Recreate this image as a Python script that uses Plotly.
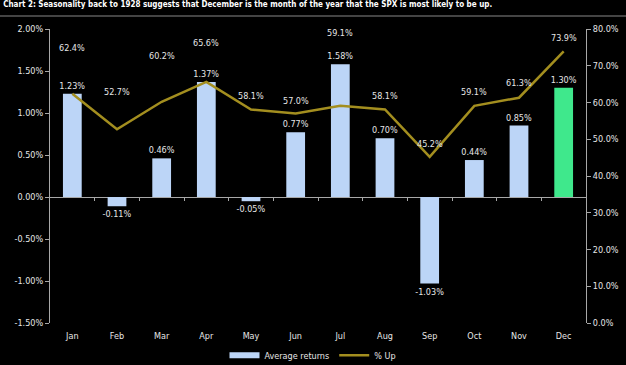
import plotly.graph_objects as go

months = ["Jan", "Feb", "Mar", "Apr", "May", "Jun", "Jul", "Aug", "Sep", "Oct", "Nov", "Dec"]
avg_returns = [1.23, -0.11, 0.46, 1.37, -0.05, 0.77, 1.58, 0.70, -1.03, 0.44, 0.85, 1.30]
pct_up = [62.4, 52.7, 60.2, 65.6, 58.1, 57.0, 59.1, 58.1, 45.2, 59.1, 61.3, 73.9]
left_ticks = [-1.5, -1.0, -0.5, 0.0, 0.5, 1.0, 1.5, 2.0]
right_ticks = [0, 10, 20, 30, 40, 50, 60, 70, 80]

# label offsets (pixels above the line point) for the % Up labels
up_label_shift = [46, 37, 46, 39, 13, 13, 73, 13, 13, 14, 15, 13]

FONT = "DejaVu Sans Condensed, Liberation Sans Narrow, sans-serif"
BLUE = "#bcd5f7"
GREEN = "#3fe88c"
GOLD = "#a38e1f"
AXIS = "#a8a8a8"
TXT = "#e6e6e6"

bar_colors = [BLUE] * (len(months) - 1) + [GREEN]

fig = go.Figure()
fig.add_trace(go.Bar(
    x=months, y=avg_returns, name="Average returns",
    marker=dict(color=bar_colors, line=dict(width=0)),
    width=0.42,
    text=[f"{v:.2f}%" for v in avg_returns],
    textposition="outside", cliponaxis=False, constraintext="none",
    textfont=dict(color=TXT, size=9, family=FONT),
    showlegend=False,
))
# legend proxy for bars (flat blue swatch)
fig.add_trace(go.Scatter(x=[None], y=[None], name="Average returns", mode="lines",
                         line=dict(color=BLUE, width=6), showlegend=True))
fig.add_trace(go.Scatter(
    x=months, y=pct_up, name="% Up", yaxis="y2", mode="lines",
    line=dict(color=GOLD, width=2.5),
))

for m, v, s in zip(months, pct_up, up_label_shift):
    fig.add_annotation(x=m, y=v, yref="y2", xref="x", text=f"{v:.1f}%",
                       showarrow=False, yshift=s, yanchor="middle",
                       font=dict(color=TXT, size=9, family=FONT))

# tick marks along the zero line between categories
fig.add_trace(go.Scatter(x=[None], y=[None], xaxis="x3", showlegend=False))

zero_pos = (0 - left_ticks[0]) / (left_ticks[-1] - left_ticks[0])

fig.update_layout(
    width=626, height=365,
    paper_bgcolor="black", plot_bgcolor="black",
    margin=dict(l=50, r=40, t=29, b=42, autoexpand=False),
    font=dict(family=FONT, color=TXT, size=9),
    bargap=0.58,
    xaxis=dict(type="category", showline=False, ticks="", showgrid=False,
               tickfont=dict(size=9, color=TXT), ticklabelstandoff=6),
    xaxis3=dict(overlaying="x", anchor="free", position=zero_pos,
                range=[-0.5, len(months) - 0.5], showgrid=False, zeroline=False,
                showline=False, tickvals=[i + 0.5 for i in range(len(months) - 1)],
                showticklabels=False, ticks="outside", ticklen=3, tickcolor=AXIS),
    yaxis=dict(range=[left_ticks[0], left_ticks[-1]], tickvals=left_ticks,
               ticktext=[f"{v:.2f}%" for v in left_ticks],
               showgrid=False, zeroline=True, zerolinecolor=AXIS, zerolinewidth=1,
               showline=True, linecolor=AXIS, linewidth=1,
               ticks="outside", ticklen=4, tickcolor=AXIS),
    yaxis2=dict(range=[right_ticks[0], right_ticks[-1]], tickvals=right_ticks,
                ticktext=[f"{v:.1f}%" for v in right_ticks],
                overlaying="y", side="right", showgrid=False, zeroline=False,
                showline=True, linecolor=AXIS, linewidth=1,
                ticks="outside", ticklen=4, tickcolor=AXIS),
    legend=dict(orientation="h", x=0.5, xanchor="center", xref="container",
                y=0.027, yanchor="middle", yref="container",
                font=dict(size=9, color=TXT), bgcolor="rgba(0,0,0,0)",
                itemwidth=30, tracegroupgap=0),
    title=dict(text="<b>Chart 2: Seasonality back to 1928 suggests that December is the month of the year that the SPX is most likely to be up.</b>",
               x=0.005, xanchor="left", xref="container", y=0.995, yanchor="top",
               yref="container", font=dict(size=8, color="white", family=FONT)),
    shapes=[dict(type="line", xref="paper", yref="paper",
                 x0=-50 / 536, x1=(626 - 50) / 536,
                 y0=(323 - 16) / 294, y1=(323 - 16) / 294,
                 line=dict(color="#888888", width=1))],
)

fig.write_html(
    "out.html",
    config={"displayModeBar": False},
    post_script="document.body.style.margin='0';document.body.style.background='black';document.body.style.overflow='hidden';",
)
